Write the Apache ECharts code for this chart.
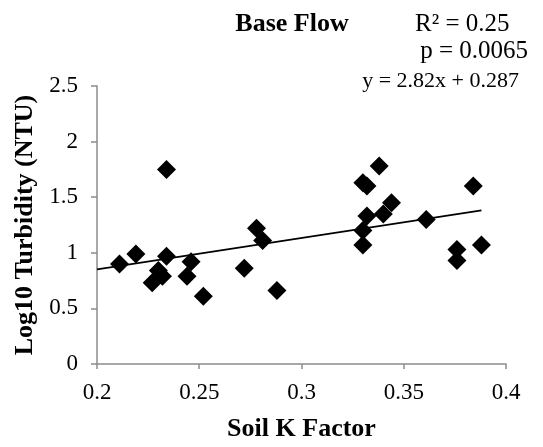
<!DOCTYPE html>
<html>
<head>
<meta charset="utf-8">
<script src="https://cdn.jsdelivr.net/npm/echarts@6/dist/echarts.min.js"></script>
<style>
  html, body { margin: 0; padding: 0; background: #fff; }
  #chart { width: 543px; height: 447px; }
</style>
</head>
<body>
<div id="chart"></div>
<script>
// Soil K factor vs. log10 turbidity, base-flow samples
const soilK = [0.211, 0.219, 0.234, 0.234, 0.230, 0.232, 0.227, 0.246, 0.244, 0.252,
               0.272, 0.278, 0.281, 0.288, 0.338, 0.330, 0.332, 0.344, 0.340, 0.332,
               0.330, 0.330, 0.361, 0.384, 0.376, 0.376, 0.388];
const logTurbidity = [0.90, 0.99, 1.75, 0.97, 0.84, 0.79, 0.73, 0.92, 0.79, 0.61,
                      0.86, 1.22, 1.11, 0.66, 1.78, 1.63, 1.60, 1.45, 1.35, 1.33,
                      1.20, 1.07, 1.30, 1.60, 1.03, 0.93, 1.07];

// Fitted regression and its statistics
const slope = 2.82;
const intercept = 0.287;
const fitRange = [0.2, 0.388];
const rSquared = '0.25';
const pValue = '0.0065';

const xTicks = [0.2, 0.25, 0.3, 0.35, 0.4];
const yTicks = [0, 0.5, 1, 1.5, 2, 2.5];

const points = soilK.map((k, i) => [k, logTurbidity[i]]);
const fitLine = fitRange.map(x => [x, slope * x + intercept]);

const serif = '"Liberation Serif", "Times New Roman", serif';
const axisGray = '#8c8c8c';

const chart = echarts.init(document.getElementById('chart'));
chart.setOption({
  animation: false,
  backgroundColor: '#ffffff',
  textStyle: { fontFamily: serif, color: '#000' },
  grid: { left: 97, right: 37, top: 86, bottom: 82, containLabel: false },
  xAxis: {
    type: 'value',
    min: xTicks[0], max: xTicks[xTicks.length - 1], interval: 0.05,
    name: 'Soil K Factor',
    nameLocation: 'middle', nameGap: 52,
    nameTextStyle: { fontFamily: serif, fontWeight: 'bold', fontSize: 26, color: '#000' },
    axisLine: { show: true, lineStyle: { color: axisGray, width: 1.5 } },
    axisTick: { show: true, length: 5, lineStyle: { color: axisGray, width: 1.5 } },
    axisLabel: { fontFamily: serif, fontSize: 23, color: '#000', margin: 17,
                 formatter: v => String(+v.toFixed(2)) },
    splitLine: { show: false }
  },
  yAxis: {
    type: 'value',
    min: yTicks[0], max: yTicks[yTicks.length - 1], interval: 0.5,
    name: 'Log10 Turbidity (NTU)',
    nameLocation: 'middle', nameGap: 57,
    nameTextStyle: { fontFamily: serif, fontWeight: 'bold', fontSize: 26, color: '#000' },
    axisLine: { show: true, lineStyle: { color: axisGray, width: 1.5 } },
    axisTick: { show: true, length: 6, lineStyle: { color: axisGray, width: 1.5 } },
    axisLabel: { fontFamily: serif, fontSize: 23, color: '#000', margin: 19,
                 formatter: v => String(+v.toFixed(1)) },
    splitLine: { show: false }
  },
  title: [
    { text: 'Base Flow', left: 287, top: 6, textAlign: 'center',
      textStyle: { fontFamily: serif, fontWeight: 'bold', fontSize: 26, color: '#000' } },
    { text: 'R² = ' + rSquared, left: 410, top: 7,
      textStyle: { fontFamily: serif, fontWeight: 'normal', fontSize: 25, color: '#000' } },
    { text: 'p = ' + pValue, right: 10, top: 34,
      textStyle: { fontFamily: serif, fontWeight: 'normal', fontSize: 25, color: '#000' } },
    { text: 'y = ' + slope + 'x + ' + intercept, right: 19, top: 65,
      textStyle: { fontFamily: serif, fontWeight: 'normal', fontSize: 22, color: '#000' } }
  ],
  series: [
    {
      type: 'line',
      data: fitLine,
      symbol: 'none',
      lineStyle: { color: '#000', width: 1.6 },
      silent: true,
      z: 1
    },
    {
      type: 'scatter',
      data: points,
      symbol: 'diamond',
      symbolSize: 19,
      itemStyle: { color: '#000', opacity: 1 },
      z: 2
    }
  ]
});
</script>
</body>
</html>
